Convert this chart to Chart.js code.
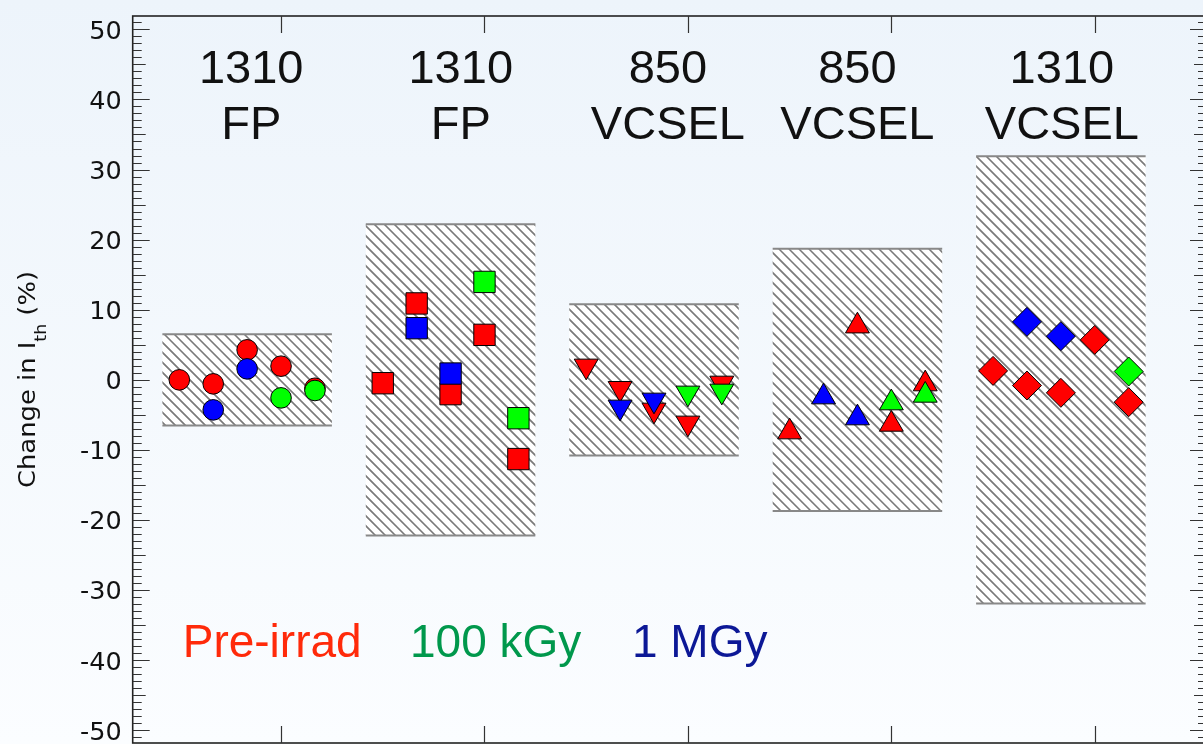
<!DOCTYPE html>
<html>
<head>
<meta charset="utf-8">
<script src="https://cdn.jsdelivr.net/npm/chart.js@4.4.1/dist/chart.umd.min.js"></script>
<style>
  html, body { margin: 0; padding: 0; overflow: hidden; background: #f4f9fd; }
  #wrap { position: relative; width: 1220px; height: 744px; }
</style>
</head>
<body>
<div id="wrap"><canvas id="c" width="1220" height="744"></canvas></div>
<script>
// ---- data ----
const groupLabels = [['1310', 'FP'], ['1310', 'FP'], ['850', 'VCSEL'], ['850', 'VCSEL'], ['1310', 'VCSEL']];
const groupSlots = [[3, 4, 5, 6, 7], [9, 10, 11, 12, 13], [15, 16, 17, 18, 19], [21, 22, 23, 24, 25], [27, 28, 29, 30, 31]];
const groupSpread = [6.5, 22.2, 10.8, 18.7, 31.9];

const preIrrad = [
  [0.0, -0.57, 4.28, 1.95, -1.2],
  [-0.48, 10.9, -2.04, 6.42, -11.3],
  [1.97, -1.22, -4.31, -6.16, -0.46],
  [-7.43, null, 7.68, -6.34, -0.58],
  [1.28, -0.81, -1.85, 5.7, -3.18]
];
const kGy100 = [
  [null, null, null, -2.57, -1.52],
  [null, null, null, 13.97, -5.47],
  [null, null, null, -1.88, -1.6],
  [null, null, null, -3.29, -2.2],
  [null, null, null, null, 1.19]
];
const MGy1 = [
  [null, -4.28, 1.57, null, null],
  [null, 7.37, 0.9, null, null],
  [null, -3.88, -2.88, null, null],
  [null, -2.44, -5.43, null, null],
  [null, 8.27, 6.23, null, null]
];

const yTickValues = [-50, -40, -30, -20, -10, 0, 10, 20, 30, 40, 50];
const xTickValues = [6, 12, 18, 24, 30];
const legendNames = ['Pre-irrad', '100 kGy', '1 MGy'];

// ---- layout / style settings ----
const labelSlot = [5.12, 11.3, 17.41, 23.0, 29.03];   // x of each group caption
const groupShape = ['circle', 'rect', 'triangle', 'triangle', 'rectRot'];
const groupRotation = [0, 0, 180, 0, 0];
const groupRadius = [10.3, 15.1, 13.8, 13.8, 14.5];

const seriesList = [
  { values: preIrrad, color: '#ff0000', order: 2 },
  { values: kGy100, color: '#00ff00', order: 1 },
  { values: MGy1, color: '#0000ff', order: 0 }
];

const datasets = [];
seriesList.forEach(s => {
  s.values.forEach((vals, g) => {
    const pts = [];
    groupSlots[g].forEach((xv, i) => { if (vals[i] !== null) pts.push({ x: xv, y: vals[i] }); });
    datasets.push({
      data: pts,
      order: s.order,
      showLine: false,
      pointStyle: groupShape[g],
      rotation: groupRotation[g],
      pointRadius: groupRadius[g],
      pointHoverRadius: groupRadius[g],
      pointBackgroundColor: s.color,
      pointBorderColor: '#000000',
      pointBorderWidth: 1,
      clip: false
    });
  });
});

// background, hatched spread boxes, frame, ticks and text
const decor = {
  id: 'decor',
  beforeDraw(chart) {
    const { ctx, width, height, scales: { x, y } } = chart;
    const bg = ctx.createLinearGradient(0, 0, 0, height);
    bg.addColorStop(0, '#edf4fb');
    bg.addColorStop(1, '#fbfdff');
    ctx.fillStyle = bg;
    ctx.fillRect(0, 0, width, height);

    groupSlots.forEach((slots, i) => {
      const x0 = x.getPixelForValue(slots[0] - 0.5);
      const x1 = x.getPixelForValue(slots[slots.length - 1] + 0.5);
      const yt = y.getPixelForValue(groupSpread[i]);
      const yb = y.getPixelForValue(-groupSpread[i]);
      ctx.save();
      ctx.fillStyle = '#ffffff';
      ctx.fillRect(x0, yt, x1 - x0, yb - yt);
      ctx.beginPath();
      ctx.rect(x0, yt, x1 - x0, yb - yt);
      ctx.clip();
      ctx.strokeStyle = '#7a7a7a';
      ctx.lineWidth = 1.6;
      ctx.beginPath();
      const step = 10;
      const k0 = Math.floor((x0 - yb) / step) - 1, k1 = Math.ceil((x1 - yt) / step) + 1;
      for (let k = k0; k <= k1; k++) {
        ctx.moveTo(k * step + yt, yt);
        ctx.lineTo(k * step + yb, yb);
      }
      ctx.stroke();
      ctx.restore();
      ctx.strokeStyle = '#888888';
      ctx.lineWidth = 2;
      ctx.beginPath();
      ctx.moveTo(x0, yt); ctx.lineTo(x1, yt);
      ctx.moveTo(x0, yb); ctx.lineTo(x1, yb);
      ctx.stroke();
    });
  },
  afterDatasetsDraw(chart) {
    const { ctx, chartArea: a, scales: { x, y } } = chart;
    ctx.save();
    // frame
    ctx.strokeStyle = '#222222';
    ctx.lineWidth = 1.6;
    ctx.strokeRect(a.left, a.top, a.right - a.left, a.bottom - a.top);

    // y ticks: major every 10, medium every 5, minor every 1
    ctx.strokeStyle = '#333333';
    ctx.lineWidth = 1.2;
    ctx.beginPath();
    for (let v = Math.ceil(y.min); v <= Math.floor(y.max); v++) {
      const len = v % 10 === 0 ? 17 : (v % 5 === 0 ? 13 : 9);
      const py = Math.round(y.getPixelForValue(v)) + 0.5;
      ctx.moveTo(a.left, py); ctx.lineTo(a.left + len, py);
      ctx.moveTo(a.right, py); ctx.lineTo(a.right - len, py);
    }
    // x ticks top and bottom
    xTickValues.forEach(v => {
      const px = Math.round(x.getPixelForValue(v)) + 0.5;
      ctx.moveTo(px, a.top); ctx.lineTo(px, a.top + 17);
      ctx.moveTo(px, a.bottom); ctx.lineTo(px, a.bottom - 17);
    });
    ctx.stroke();

    // y tick labels
    const tfs = 25.5;
    ctx.fillStyle = '#111111';
    ctx.font = tfs + 'px "DejaVu Sans"';
    ctx.textAlign = 'right';
    ctx.textBaseline = 'alphabetic';
    yTickValues.forEach(v => {
      ctx.fillText(String(v), a.left - 11, y.getPixelForValue(v) + 0.365 * tfs);
    });

    // device group captions
    ctx.font = '47px "Liberation Sans", Arial, sans-serif';
    ctx.textAlign = 'center';
    groupLabels.forEach((lines, i) => {
      const cx = x.getPixelForValue(labelSlot[i]);
      ctx.fillText(lines[0], cx, 83.3);
      ctx.fillText(lines[1], cx, 139.3);
    });

    // legend text
    ctx.font = '46px "Liberation Sans", Arial, sans-serif';
    ctx.textAlign = 'left';
    const legColors = ['#ff2a0a', '#00984c', '#0c1896'];
    const legX = [182.7, 410, 632];
    legendNames.forEach((t, i) => {
      ctx.fillStyle = legColors[i];
      ctx.fillText(t, legX[i], 656.7);
    });

    // y axis title with subscript
    const mainFont = '23px "DejaVu Sans"', subFont = '15.5px "DejaVu Sans"';
    const p1 = 'Change in I', p2 = 'th', p3 = ' (%)';
    ctx.font = mainFont; const w1 = ctx.measureText(p1).width, w3 = ctx.measureText(p3).width;
    ctx.font = subFont; const w2 = ctx.measureText(p2).width;
    const total = w1 + w2 + w3;
    const target = 217;
    ctx.translate(35, (a.top + a.bottom) / 2);
    ctx.rotate(-Math.PI / 2);
    ctx.scale(target / total, 1);
    ctx.fillStyle = '#111111';
    ctx.textAlign = 'left';
    let cx = -total / 2;
    ctx.font = mainFont; ctx.fillText(p1, cx, 0); cx += w1;
    ctx.font = subFont; ctx.fillText(p2, cx, 11); cx += w2;
    ctx.font = mainFont; ctx.fillText(p3, cx, 0);
    ctx.restore();
  }
};

new Chart(document.getElementById('c'), {
  type: 'scatter',
  data: { datasets },
  options: {
    responsive: false,
    animation: false,
    events: [],
    layout: { autoPadding: false, padding: { left: 132.7, top: 16, right: 13, bottom: 1 } },
    plugins: { legend: { display: false }, tooltip: { enabled: false }, title: { display: false } },
    scales: {
      x: { type: 'linear', min: 1.625, max: 33.31, display: false },
      y: { type: 'linear', min: -51.8, max: 51.9, display: false }
    }
  },
  plugins: [decor]
});
</script>
</body>
</html>
